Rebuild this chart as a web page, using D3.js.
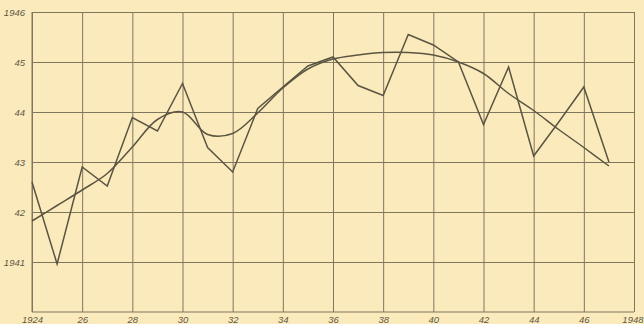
<!DOCTYPE html>
<html>
<head>
<meta charset="utf-8">
<script src="https://cdn.jsdelivr.net/npm/d3@7"></script>
<style>
  body { margin: 0; background: #fbebbc; }
  svg { display: block; }
  .axis text { font-family: "Liberation Sans", sans-serif; font-style: italic; font-size: 9.5px; fill: #5e5743; }
  .axis path { display: none; }
  .axis line { stroke: #7f765e; stroke-width: 1; }
</style>
</head>
<body>
<div id="chart"></div>
<script>
// years and values
let years = d3.range(1924, 1948);
let annual = [42.6, 40.96, 42.9, 42.52, 43.89, 43.62, 44.57, 43.29, 42.8, 44.07, 44.5, 44.92,
              45.1, 44.53, 44.33, 45.55, 45.34, 45.0, 43.75, 44.9, 43.12, 43.8, 44.5, 43.0];
let trend = [41.82, 42.13, 42.44, 42.77, 43.3, 43.85, 44.0, 43.55, 43.57, 43.98, 44.48, 44.86,
             45.06, 45.14, 45.19, 45.19, 45.14, 45.0, 44.77, 44.37, 44.03, 43.65, 43.29, 42.92];
let xTicks = [1924, 1926, 1928, 1930, 1932, 1934, 1936, 1938, 1940, 1942, 1944, 1946, 1948];
let xTickLabels = ["1924", "26", "28", "30", "32", "34", "36", "38", "40", "42", "44", "46", "1948"];
let yTicks = [41, 42, 43, 44, 45, 46];
let yTickLabels = ["1941", "42", "43", "44", "45", "1946"];

let margin = { top: 12, right: 10, bottom: 12, left: 32 };
let width = 644 - margin.left - margin.right,
    height = 324 - margin.top - margin.bottom;

let svg = d3.select("#chart").append("svg")
    .attr("width", 644)
    .attr("height", 324)
    .append("g")
    .attr("transform", "translate(" + margin.left + "," + margin.top + ")");

let x = d3.scaleLinear().domain([1924, 1948]).range([0, width]);
let y = d3.scaleLinear().domain([40, 46]).range([height, 0]);

// grid + labels via axes
let xAxis = d3.axisBottom(x)
    .tickValues(xTicks)
    .tickSize(-height)
    .tickPadding(4)
    .tickFormat((d, i) => xTickLabels[i]);

let yAxis = d3.axisLeft(y)
    .tickValues(yTicks)
    .tickSize(-width)
    .tickPadding(7)
    .tickFormat((d, i) => yTickLabels[i]);

svg.append("g")
    .attr("class", "x-axis axis")
    .attr("transform", "translate(0," + height + ")")
    .call(xAxis);

svg.select(".x-axis").selectAll("text")
    .filter(d => d == 1948)
    .attr("text-anchor", "end")
    .attr("dx", "9");

svg.append("g")
    .attr("class", "y-axis axis")
    .call(yAxis);

// bottom and left frame
svg.append("line")
    .attr("x1", 0).attr("x2", width)
    .attr("y1", y(40)).attr("y2", y(40))
    .attr("stroke", "#7f765e");
svg.append("line")
    .attr("x1", 0).attr("x2", 0)
    .attr("y1", 0).attr("y2", height)
    .attr("stroke", "#7f765e");

// jagged annual line
let line = d3.line()
    .x((d, i) => x(years[i]))
    .y(d => y(d));

svg.append("path")
    .datum(annual)
    .attr("d", line)
    .attr("fill", "none")
    .attr("stroke", "#5a5442")
    .attr("stroke-width", 1.5)
    .attr("stroke-linejoin", "miter");

// smoothed trend
let smooth = d3.line()
    .curve(d3.curveCatmullRom)
    .x((d, i) => x(years[i]))
    .y(d => y(d));

svg.append("path")
    .datum(trend)
    .attr("d", smooth)
    .attr("fill", "none")
    .attr("stroke", "#5a5442")
    .attr("stroke-width", 1.5);
</script>
</body>
</html>
